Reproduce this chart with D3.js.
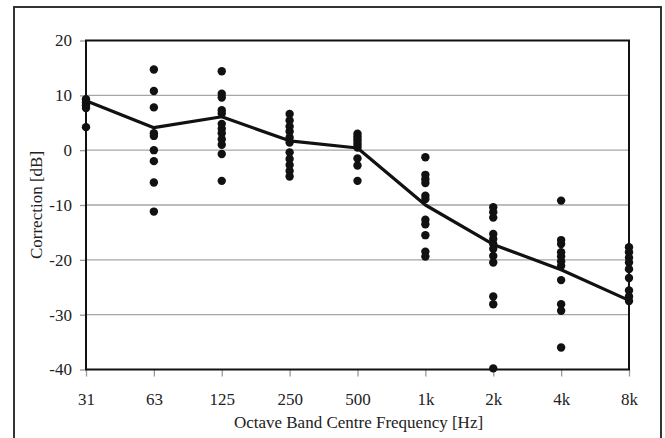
<!DOCTYPE html>
<html><head><meta charset="utf-8">
<script src="https://cdn.jsdelivr.net/npm/d3@7"></script>
<style>body{margin:0;background:#fff}svg{display:block}text{font-family:"Liberation Serif","Times New Roman",serif;fill:#222}</style>
</head><body><svg id="c" width="665" height="438"></svg>
<script>
const categories = ["31","63","125","250","500","1k","2k","4k","8k"];
const yTicks = [20,10,0,-10,-20,-30,-40];
const meanValues = [9.0, 4.1, 6.1, 1.7, 0.4, -10.0, -17.2, -21.8, -27.4];
const pts31 = [9.3, 8.7, 8.2, 7.7, 4.2];
const pts63 = [14.7, 10.8, 7.8, 3.1, 2.6, 0.0, -2.0, -5.9, -11.2];
const pts125 = [14.4, 10.3, 9.6, 7.3, 6.7, 4.8, 3.9, 3.1, 2.0, 1.0, -0.7, -5.6];
const pts250 = [6.6, 5.4, 4.3, 3.4, 2.3, 1.4, -0.4, -1.6, -2.7, -3.8, -4.8];
const pts500 = [3.0, 2.5, 2.0, 1.5, 1.0, 0.5, -1.5, -2.8, -5.6];
const pts1k = [-1.3, -4.5, -5.3, -6.0, -8.3, -8.9, -12.7, -13.5, -15.5, -18.5, -19.4];
const pts2k = [-10.4, -11.3, -12.3, -15.3, -16.2, -17.1, -18.0, -19.3, -20.5, -26.7, -28.1, -39.8];
const pts4k = [-9.2, -16.4, -17.1, -18.6, -19.4, -20.3, -21.1, -23.7, -28.1, -29.3, -36.0];
const pts8k = [-17.7, -18.6, -19.6, -20.5, -21.7, -23.3, -25.6, -26.7, -27.5];
const scatter = [pts31, pts63, pts125, pts250, pts500, pts1k, pts2k, pts4k, pts8k];

const svg = d3.select("#c");
const m = {l:86, r:629, t:40.5, b:369.5};
const x = d3.scalePoint().domain(categories).range([m.l, m.r]).padding(0);
const y = d3.scaleLinear().domain([-40,20]).range([m.b, m.t]);
const FS = 17;

// outer frame
svg.append("rect").attr("x",14).attr("y",7).attr("width",647).attr("height",445)
  .attr("fill","none").attr("stroke","#333").attr("stroke-width",2);

// gridlines
svg.append("g").selectAll("line").data(yTicks.filter(d=>d>-40&&d<20)).join("line")
  .attr("x1",m.l).attr("x2",m.r).attr("y1",d=>y(d)).attr("y2",d=>y(d))
  .attr("stroke","#a6a6a6").attr("stroke-width",1.3);

// y axis
const ya = svg.append("g").attr("transform",`translate(${m.l},0)`)
  .call(d3.axisLeft(y).tickValues(yTicks).tickSize(6).tickPadding(8).tickFormat(d=>String(d)));
ya.select(".domain").remove();
ya.selectAll(".tick line").attr("stroke","#999").attr("stroke-width",1.3);
ya.selectAll(".tick text").attr("font-size",FS).attr("fill","#222").style("font-family",'"Liberation Serif",serif');

// x axis
const xa = svg.append("g").attr("transform",`translate(0,${m.b})`)
  .call(d3.axisBottom(x).tickSize(7).tickPadding(16));
xa.select(".domain").remove();
xa.selectAll(".tick line").attr("stroke","#999").attr("stroke-width",1.3);
xa.selectAll(".tick text").attr("font-size",FS).attr("fill","#222").style("font-family",'"Liberation Serif",serif');

// plot frame
svg.append("rect").attr("x",m.l).attr("y",m.t).attr("width",m.r-m.l).attr("height",m.b-m.t)
  .attr("fill","none").attr("stroke","#111").attr("stroke-width",2);

// scatter points
const flat = [];
scatter.forEach((arr,i)=>arr.forEach(v=>flat.push({c:categories[i], v})));
svg.append("g").selectAll("circle").data(flat).join("circle")
  .attr("cx",d=>x(d.c)).attr("cy",d=>y(d.v)).attr("r",4.2).attr("fill","#111");

// mean line
svg.append("path").datum(meanValues.map((v,i)=>({c:categories[i],v})))
  .attr("d", d3.line().x(d=>x(d.c)).y(d=>y(d.v)))
  .attr("fill","none").attr("stroke","#111").attr("stroke-width",3.2).attr("stroke-linejoin","round");

// titles
svg.append("text").attr("x",(m.l+m.r)/2 + 1).attr("y",428).attr("text-anchor","middle")
  .attr("font-size",FS).text("Octave Band Centre Frequency [Hz]");
svg.append("text").attr("transform",`translate(42,${(m.t+m.b)/2}) rotate(-90)`).attr("text-anchor","middle")
  .attr("font-size",FS).text("Correction [dB]");
</script></body></html>
